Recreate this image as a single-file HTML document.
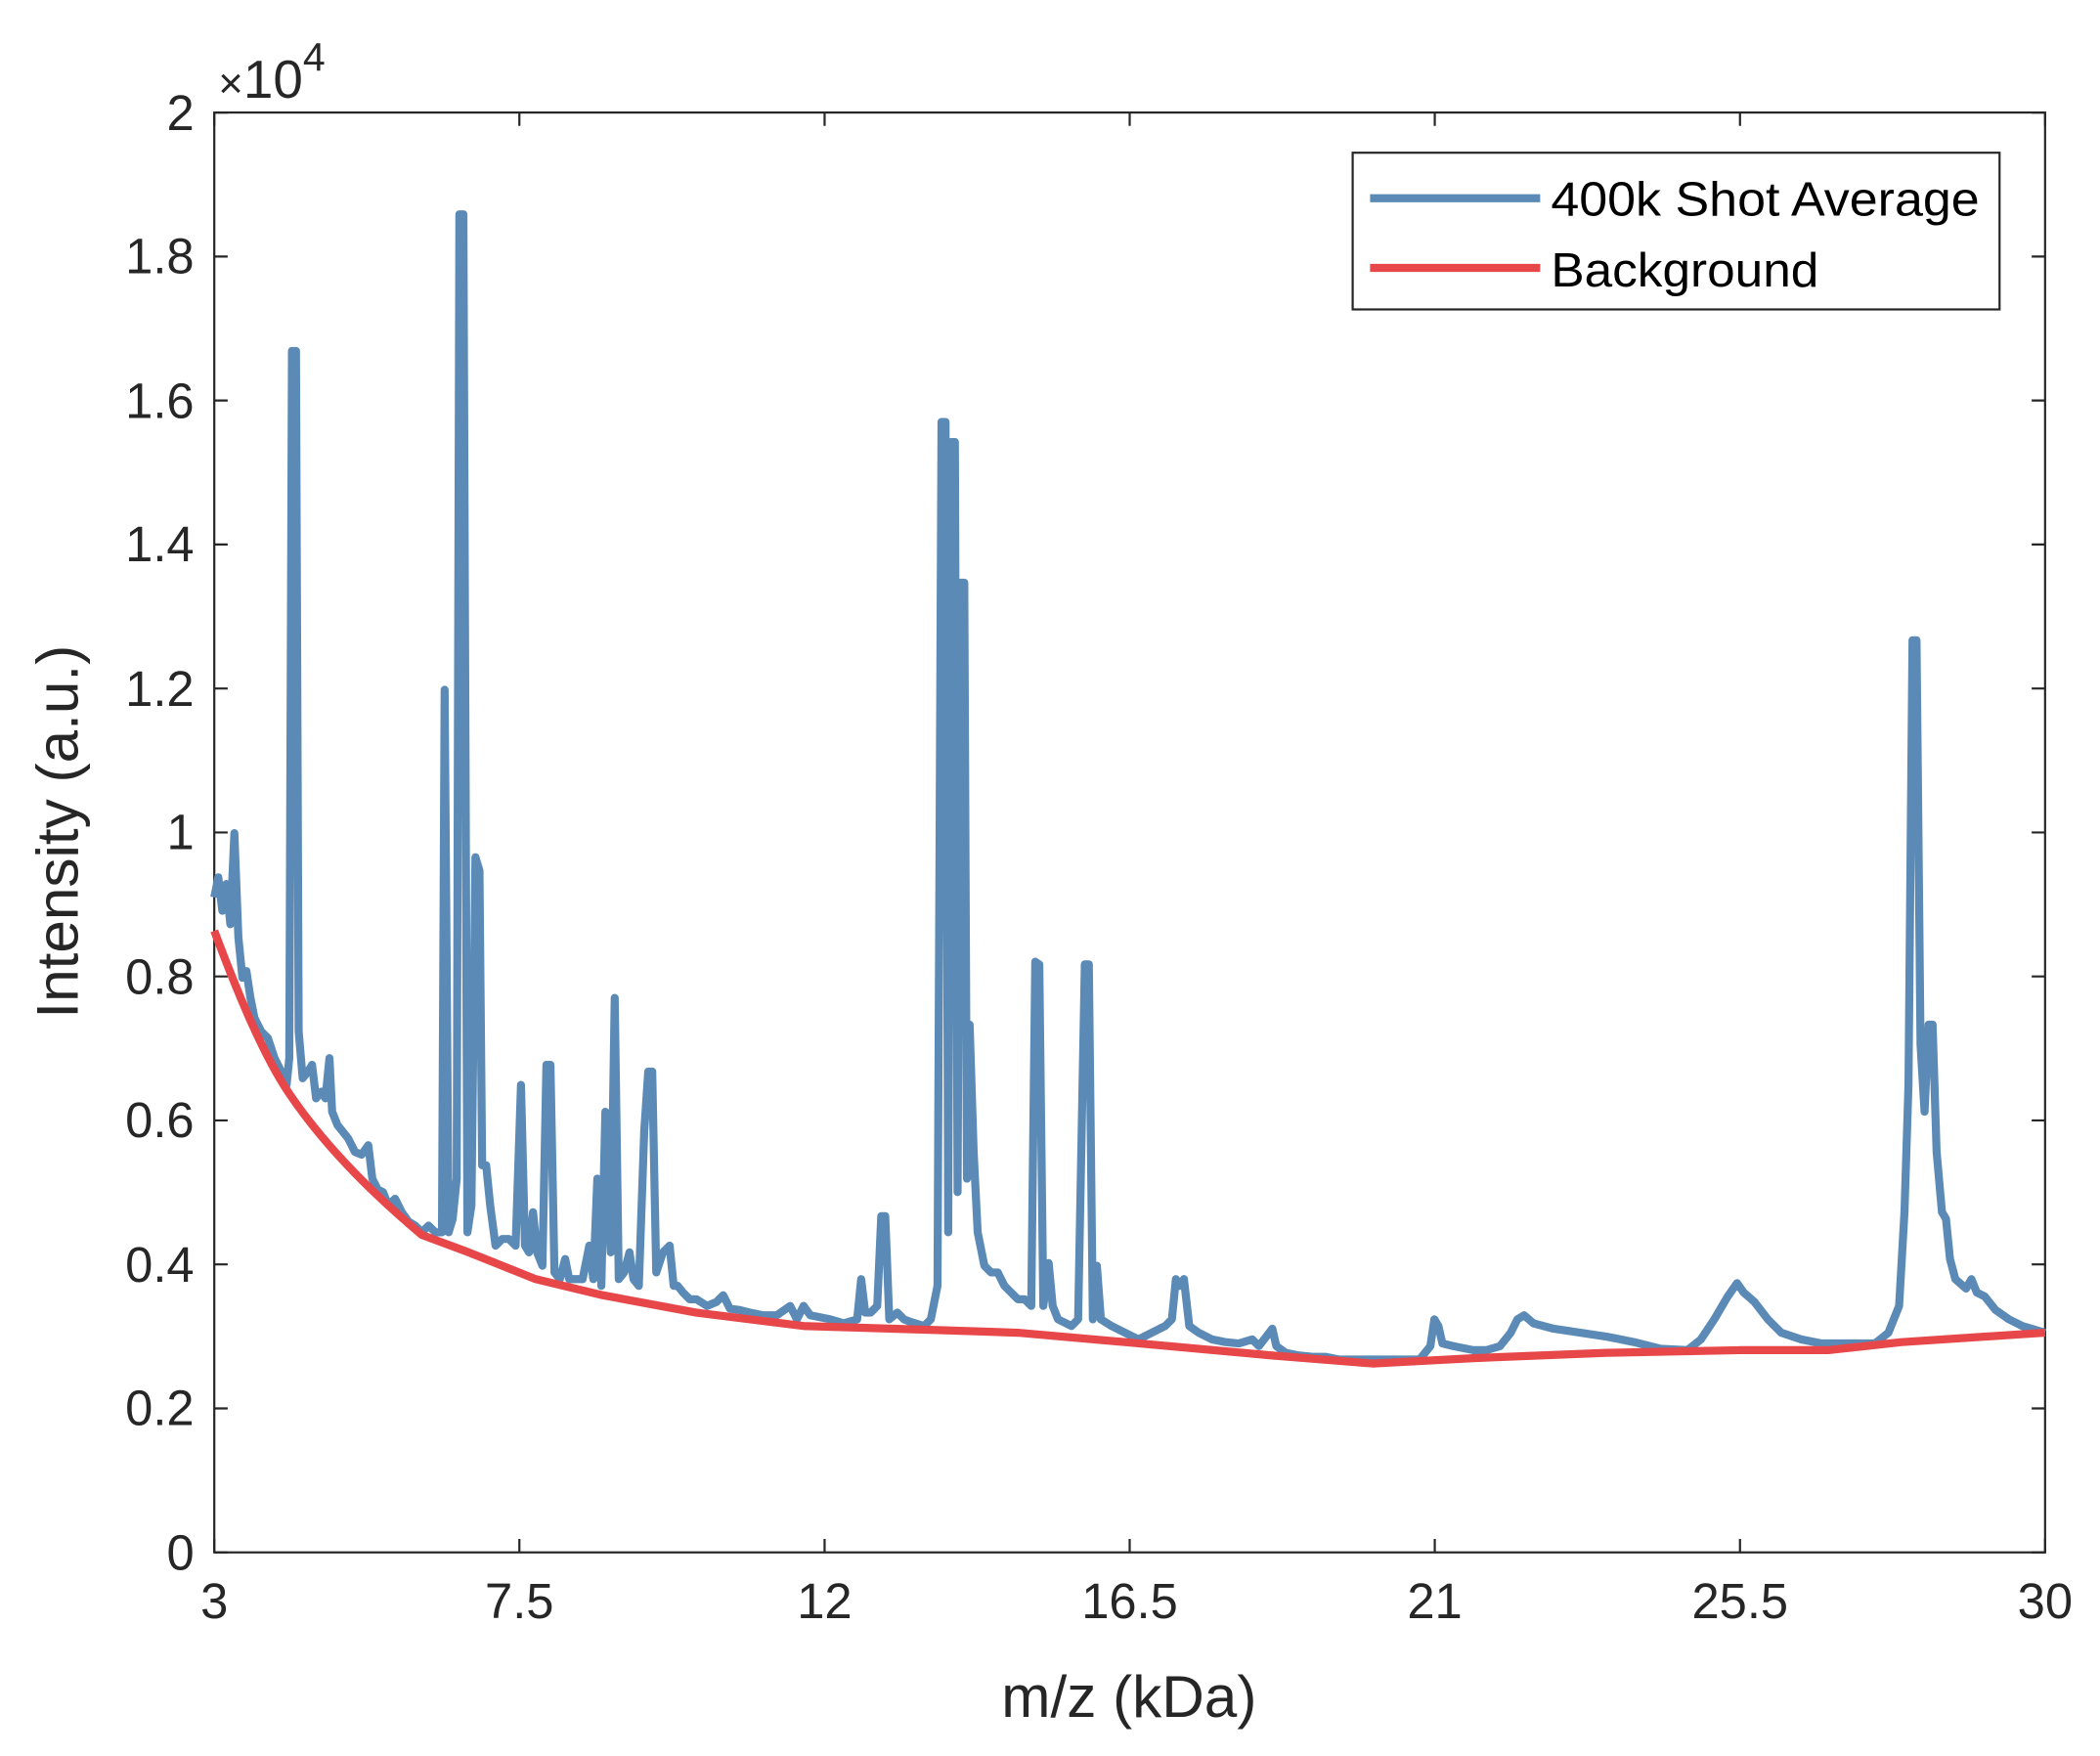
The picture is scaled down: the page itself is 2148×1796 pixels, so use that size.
<!DOCTYPE html>
<html><head><meta charset="utf-8"><style>html,body{margin:0;padding:0;background:#fff}svg{display:block}</style></head>
<body>
<svg width="2148" height="1796" viewBox="0 0 1568 1311" xmlns="http://www.w3.org/2000/svg" font-family="Liberation Sans, Arial, sans-serif" fill="#262626">
<rect width="1568" height="1311" fill="#fff"/>
<g stroke="#262626" stroke-width="1.6" fill="none">
<rect x="160" y="84" width="1367" height="1075"/>
<path d="M160,1159v-10M387.8,1159v-10M615.7,1159v-10M843.5,1159v-10M1071.3,1159v-10M1299.2,1159v-10M1527,1159v-10
M160,84v10M387.8,84v10M615.7,84v10M843.5,84v10M1071.3,84v10M1299.2,84v10M1527,84v10
M160,1159h10M160,1051.5h10M160,944h10M160,836.5h10M160,729h10M160,621.5h10M160,514h10M160,406.5h10M160,299h10M160,191.5h10M160,84h10
M1527,1159h-10M1527,1051.5h-10M1527,944h-10M1527,836.5h-10M1527,729h-10M1527,621.5h-10M1527,514h-10M1527,406.5h-10M1527,299h-10M1527,191.5h-10M1527,84h-10"/>
</g>
<g font-size="37" text-anchor="end">
<text x="145" y="1172">0</text><text x="145" y="1064">0.2</text><text x="145" y="957">0.4</text><text x="145" y="849">0.6</text><text x="145" y="742">0.8</text><text x="145" y="634">1</text><text x="145" y="527">1.2</text><text x="145" y="419">1.4</text><text x="145" y="312">1.6</text><text x="145" y="204">1.8</text><text x="145" y="97">2</text>
</g>
<g font-size="37" text-anchor="middle">
<text x="160" y="1208">3</text><text x="387.8" y="1208">7.5</text><text x="615.7" y="1208">12</text><text x="843.5" y="1208">16.5</text><text x="1071.3" y="1208">21</text><text x="1299.2" y="1208">25.5</text><text x="1527" y="1208">30</text>
<text x="843" y="1282" font-size="44">m/z (kDa)</text>
<text transform="translate(58,621) rotate(-90)" font-size="44">Intensity (a.u.)</text>
</g>
<text x="163" y="73" font-size="40"><tspan font-size="32">×</tspan>10<tspan dy="-20" font-size="30">4</tspan></text>
<path fill="none" stroke="#5a8ab5" stroke-width="6" stroke-linejoin="round" d="M160,670 163,655 166,680 169,660 172,690 175,622 178,700 181,730 184,725 187,745 190,760 195,770 200,775 205,790 210,800 214,810 216,790 218,262 221,262 223,770 226,805 230,800 233,795 236,820 240,815 243,820 246,790 248,830 252,840 256,845 260,850 265,860 270,862 275,855 278,880 282,888 286,890 290,900 295,895 300,905 305,912 310,915 315,920 320,915 325,920 330,920 332,515 335,920 338,910 341,880 343,160 346,160 349,920 352,900 355,640 358,650 360,870 363,870 366,900 370,930 375,925 380,925 385,930 389,810 392,930 395,935 398,905 401,935 405,945 408,795 411,795 414,950 418,955 422,940 425,955 430,955 435,955 440,930 443,955 446,880 449,960 452,830 456,935 459,745 462,955 466,950 470,935 473,955 477,960 481,845 484,800 487,800 490,950 495,935 500,930 503,960 506,960 510,965 515,970 520,970 528,975 535,972 540,967 545,977 552,978 560,980 570,982 580,982 590,975 595,985 600,975 605,982 610,983 620,985 630,988 640,985 643,955 646,980 650,980 655,975 658,908 661,908 664,985 670,980 675,985 680,987 690,990 695,985 700,960 703,315 706,315 708,920 710,330 713,330 715,890 717,435 720,435 722,880 724,765 727,860 730,920 735,945 740,950 745,950 750,960 755,965 760,970 765,970 770,975 773,718 776,720 779,975 783,943 786,975 790,985 800,990 805,985 810,720 813,720 816,985 819,945 822,985 830,990 840,995 850,1000 860,995 870,990 875,985 878,955 881,960 884,955 888,990 895,995 905,1000 915,1002 925,1003 935,1000 940,1005 950,992 953,1005 960,1010 970,1012 980,1013 990,1013 1000,1015 1010,1015 1020,1015 1040,1015 1060,1015 1068,1005 1071,985 1074,990 1077,1003 1085,1005 1100,1008 1110,1008 1120,1005 1128,995 1133,985 1138,982 1145,988 1160,992 1180,995 1200,998 1220,1002 1240,1007 1260,1008 1270,1000 1280,985 1290,968 1297,958 1302,965 1310,972 1320,985 1330,995 1345,1000 1360,1003 1380,1003 1400,1003 1410,995 1418,975 1422,905 1425,810 1428,478 1431,478 1434,780 1437,830 1440,765 1443,765 1446,860 1450,905 1453,910 1456,940 1460,955 1468,962 1472,955 1476,965 1482,968 1490,978 1500,985 1510,990 1527,995"/>
<path fill="none" stroke="#e8474a" stroke-width="6" stroke-linejoin="round" d="M160,695 C175,735 195,785 215,815 S265,880 315,922 L350,935 400,955 450,967 520,980 600,990 700,993 760,995 840,1002 950,1012 1025,1018 1100,1014 1200,1010 1300,1008 1365,1008 1420,1002 1527,995"/>
<rect x="1010" y="114" width="483" height="117" fill="#fff" stroke="#262626" stroke-width="1.6"/>
<line x1="1023" y1="148" x2="1150" y2="148" stroke="#5a8ab5" stroke-width="6"/>
<line x1="1023" y1="200" x2="1150" y2="200" stroke="#e8474a" stroke-width="6"/>
<text x="1158" y="161" font-size="36" fill="#000" textLength="320" lengthAdjust="spacingAndGlyphs">400k Shot Average</text>
<text x="1158" y="214" font-size="36" fill="#000" textLength="200" lengthAdjust="spacingAndGlyphs">Background</text>
</svg>
</body></html>
